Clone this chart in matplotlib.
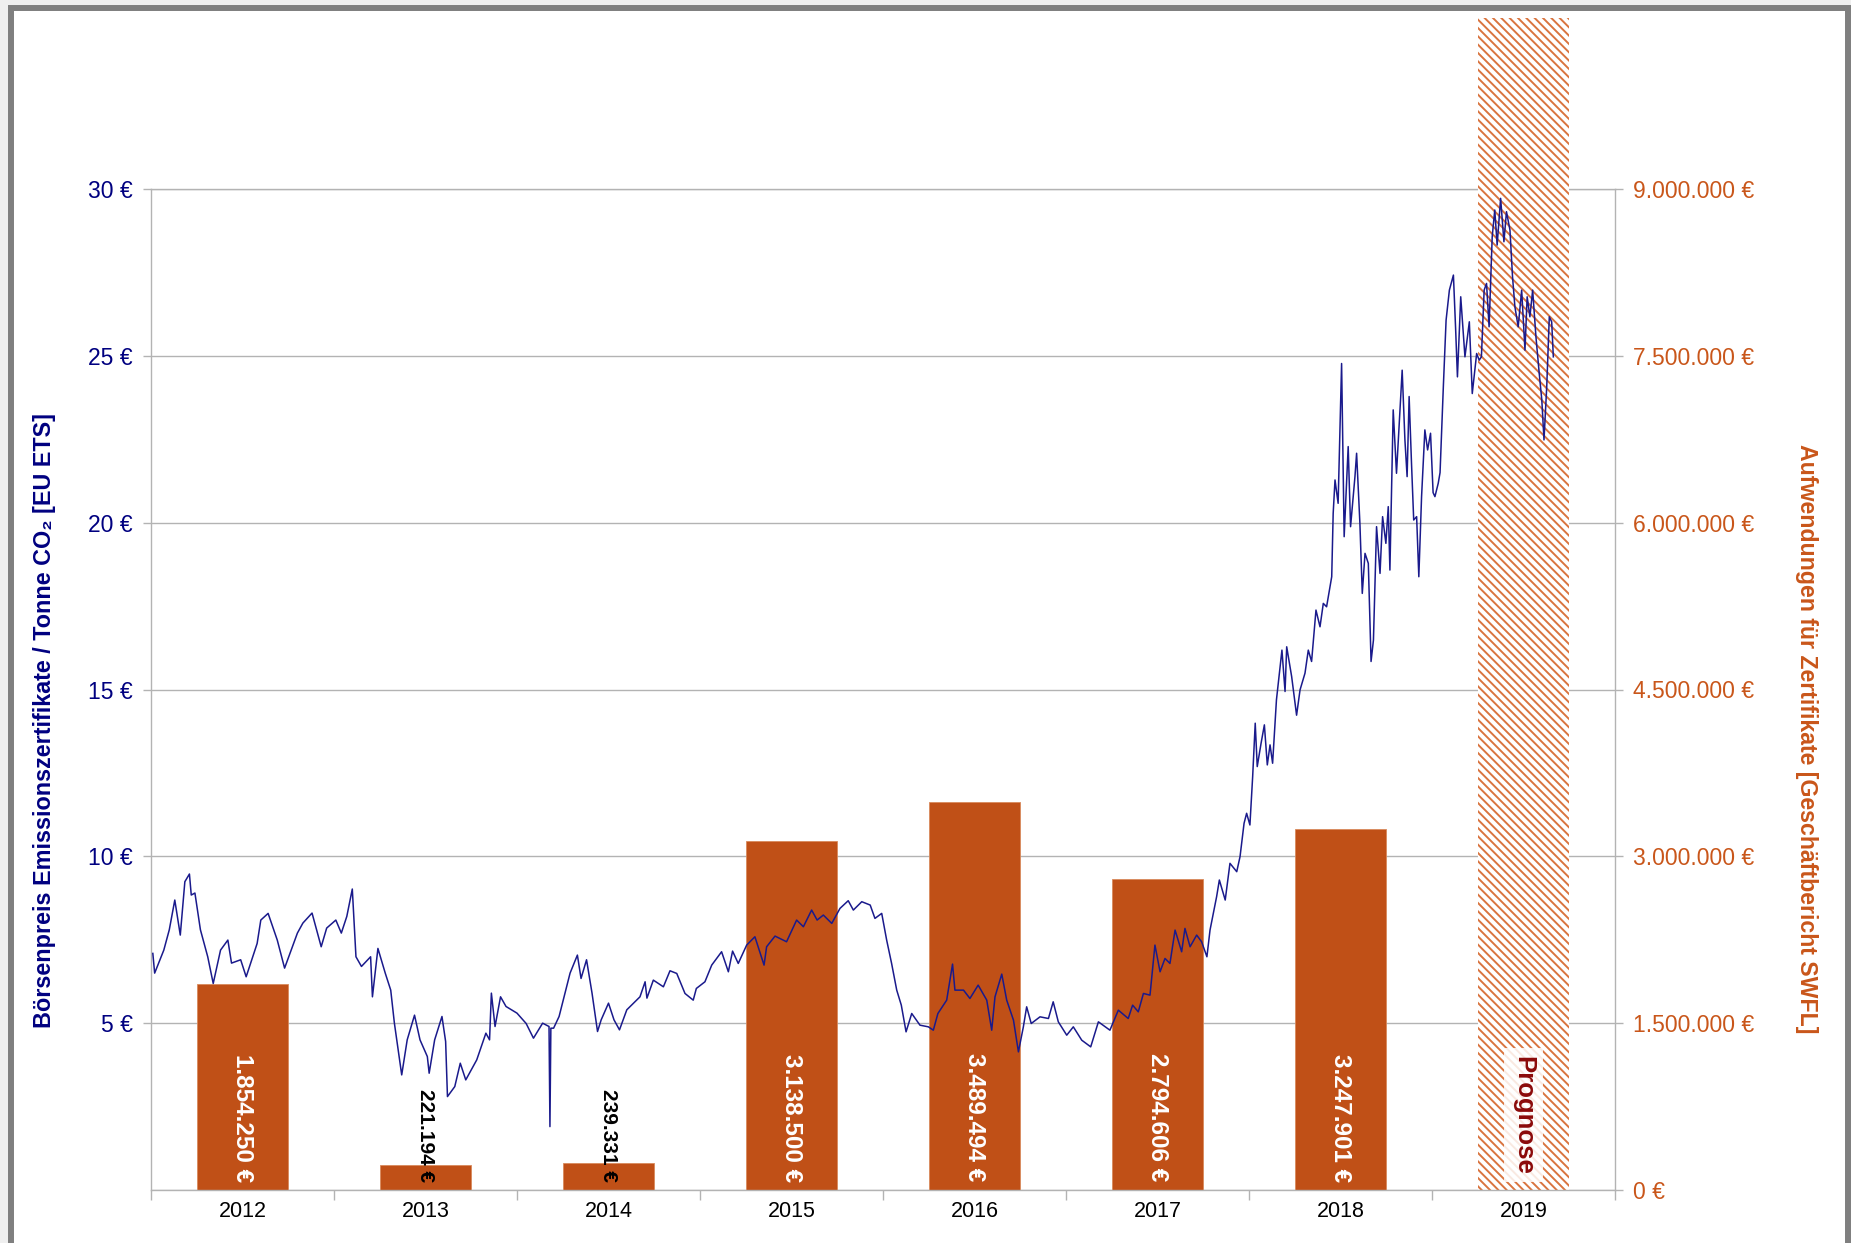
import matplotlib.pyplot as plt
from matplotlib.patches import Rectangle
from matplotlib.ticker import FixedLocator, FuncFormatter

plt.rcParams["font.family"] = ["Liberation Sans", "DejaVu Sans"]
plt.rcParams["hatch.linewidth"] = 1.4

# annual spending on certificates (right axis)
YEARS = ["2012", "2013", "2014", "2015", "2016", "2017", "2018", "2019"]
COSTS = [1854250, 221194, 239331, 3138500, 3489494, 2794606, 3247901]
FORECAST_LABEL = "Prognose"

# EU ETS price (decimal year, EUR per tonne)
PRICE_T = [
    2012.010, 2012.020, 2012.070, 2012.100, 2012.130, 2012.160, 2012.185, 2012.210,
    2012.220, 2012.240, 2012.270, 2012.300, 2012.310, 2012.340, 2012.380, 2012.420,
    2012.440, 2012.490, 2012.520, 2012.580, 2012.600, 2012.640, 2012.690, 2012.730,
    2012.800, 2012.830, 2012.880, 2012.930, 2012.960, 2013.010, 2013.040, 2013.070,
    2013.100, 2013.120, 2013.150, 2013.200, 2013.210, 2013.240, 2013.280, 2013.310,
    2013.330, 2013.370, 2013.400, 2013.440, 2013.470, 2013.510, 2013.520, 2013.550,
    2013.590, 2013.610, 2013.620, 2013.660, 2013.690, 2013.720, 2013.780, 2013.830,
    2013.850, 2013.860, 2013.880, 2013.910, 2013.940, 2014.000, 2014.050, 2014.090,
    2014.140, 2014.175, 2014.180, 2014.185, 2014.200, 2014.230, 2014.290, 2014.330,
    2014.350, 2014.380, 2014.410, 2014.440, 2014.460, 2014.500, 2014.530, 2014.560,
    2014.600, 2014.672, 2014.700, 2014.710, 2014.745, 2014.800, 2014.836, 2014.873,
    2014.918, 2014.963, 2014.980, 2015.027, 2015.064, 2015.118, 2015.155, 2015.178,
    2015.209, 2015.255, 2015.300, 2015.350, 2015.364, 2015.410, 2015.473, 2015.528,
    2015.565, 2015.610, 2015.640, 2015.674, 2015.720, 2015.765, 2015.810, 2015.838,
    2015.884, 2015.930, 2015.956, 2015.993, 2016.020, 2016.047, 2016.075, 2016.100,
    2016.126, 2016.157, 2016.202, 2016.248, 2016.275, 2016.300, 2016.348, 2016.380,
    2016.393, 2016.440, 2016.475, 2016.520, 2016.567, 2016.594, 2016.612, 2016.649,
    2016.676, 2016.713, 2016.740, 2016.767, 2016.785, 2016.810, 2016.858, 2016.904,
    2016.930, 2016.958, 2017.004, 2017.040, 2017.086, 2017.135, 2017.177, 2017.240,
    2017.286, 2017.340, 2017.364, 2017.395, 2017.423, 2017.459, 2017.486, 2017.514,
    2017.541, 2017.568, 2017.596, 2017.632, 2017.650, 2017.678, 2017.714, 2017.741,
    2017.770, 2017.787, 2017.823, 2017.838, 2017.870, 2017.896, 2017.933, 2017.951,
    2017.973, 2017.987, 2018.005, 2018.020, 2018.034, 2018.045, 2018.066, 2018.084,
    2018.100, 2018.115, 2018.129, 2018.150, 2018.180, 2018.197, 2018.206, 2018.233,
    2018.260, 2018.279, 2018.306, 2018.324, 2018.342, 2018.366, 2018.388, 2018.406,
    2018.424, 2018.443, 2018.452, 2018.460, 2018.470, 2018.487, 2018.506, 2018.520,
    2018.542, 2018.555, 2018.579, 2018.588, 2018.606, 2018.619, 2018.634, 2018.652,
    2018.667, 2018.680, 2018.697, 2018.716, 2018.730, 2018.748, 2018.761, 2018.770,
    2018.788, 2018.806, 2018.837, 2018.852, 2018.864, 2018.875, 2018.888, 2018.900,
    2018.916, 2018.928, 2018.943, 2018.961, 2018.976, 2018.992, 2019.006, 2019.016,
    2019.034, 2019.044, 2019.062, 2019.077, 2019.095, 2019.117, 2019.129, 2019.139,
    2019.157, 2019.180, 2019.204, 2019.220, 2019.244, 2019.258, 2019.270, 2019.285,
    2019.298, 2019.312, 2019.329, 2019.343, 2019.356, 2019.375, 2019.393, 2019.407,
    2019.426, 2019.440, 2019.453, 2019.471, 2019.490, 2019.508, 2019.520, 2019.535,
    2019.550, 2019.568, 2019.586, 2019.600, 2019.612, 2019.627, 2019.641, 2019.654,
    2019.663,
]
PRICE_EUR = [
    7.09, 6.50, 7.19, 7.80, 8.69, 7.64, 9.24, 9.47,
    8.84, 8.90, 7.80, 7.19, 6.99, 6.19, 7.19, 7.49,
    6.80, 6.90, 6.39, 7.39, 8.09, 8.29, 7.49, 6.65,
    7.70, 8.00, 8.30, 7.29, 7.85, 8.09, 7.70, 8.20,
    9.02, 6.99, 6.70, 6.99, 5.79, 7.24, 6.50, 5.99,
    5.00, 3.45, 4.50, 5.24, 4.50, 4.00, 3.50, 4.50,
    5.20, 4.45, 2.80, 3.10, 3.80, 3.30, 3.90, 4.70,
    4.50, 5.90, 4.90, 5.79, 5.50, 5.30, 4.99, 4.55,
    5.00, 4.90, 1.90, 4.85, 4.85, 5.20, 6.50, 7.04,
    6.34, 6.90, 5.90, 4.75, 5.10, 5.60, 5.10, 4.80,
    5.40, 5.79, 6.24, 5.75, 6.29, 6.09, 6.57, 6.49,
    5.89, 5.69, 6.04, 6.24, 6.74, 7.14, 6.54, 7.16,
    6.79, 7.34, 7.59, 6.74, 7.29, 7.61, 7.44, 8.09,
    7.89, 8.39, 8.09, 8.24, 7.99, 8.44, 8.67, 8.39,
    8.64, 8.54, 8.14, 8.29, 7.49, 6.79, 5.99, 5.54,
    4.74, 5.29, 4.94, 4.89, 4.79, 5.29, 5.69, 6.77,
    5.99, 5.99, 5.74, 6.14, 5.69, 4.79, 5.79, 6.47,
    5.69, 5.09, 4.14, 4.89, 5.49, 4.99, 5.19, 5.14,
    5.64, 5.04, 4.64, 4.89, 4.49, 4.29, 5.04, 4.79,
    5.39, 5.14, 5.54, 5.34, 5.89, 5.84, 7.34, 6.54,
    6.94, 6.79, 7.79, 7.14, 7.84, 7.29, 7.64, 7.44,
    6.99, 7.79, 8.79, 9.29, 8.69, 9.79, 9.54, 9.99,
    10.99, 11.29, 10.94, 12.39, 13.99, 12.69, 13.39, 13.94,
    12.74, 13.34, 12.79, 14.69, 16.18, 14.94, 16.28, 15.39,
    14.23, 14.99, 15.49, 16.18, 15.84, 17.38, 16.88, 17.58,
    17.48, 18.08, 18.38, 20.28, 21.28, 20.58, 24.77, 19.58,
    22.28, 19.88, 21.38, 22.08, 19.98, 17.88, 19.08, 18.78,
    15.84, 16.48, 19.88, 18.48, 20.18, 19.38, 20.48, 18.58,
    23.38, 21.48, 24.57, 22.48, 21.38, 23.78, 21.78, 20.08,
    20.18, 18.38, 20.78, 22.78, 22.18, 22.68, 20.90, 20.78,
    21.18, 21.50, 24.08, 26.07, 26.97, 27.42, 25.82, 24.37,
    26.77, 24.97, 26.02, 23.87, 25.07, 24.87, 24.97, 26.97,
    27.17, 25.87, 28.57, 29.37, 28.32, 29.72, 28.42, 29.32,
    28.77, 27.37, 26.47, 25.87, 26.97, 25.17, 26.77, 26.17,
    26.97, 25.57, 24.47, 23.68, 22.48, 24.08, 26.17, 26.02,
    24.97,
]

PRICE_TICKS = [5, 10, 15, 20, 25, 30]
COST_TICKS = [0, 1500000, 3000000, 4500000, 6000000, 7500000, 9000000]

W, H = 1851, 1243
NAVY = "#000080"
LINE = "#1a1a8c"
RUST = "#c05017"
HATCH = "#d9743f"
ORANGE = "#c9561a"
DARKRED = "#8b0a0a"
GRID = "#b3b3b3"


def euro_dots(v, _=None):
    return f"{v:,.0f}".replace(",", ".") + " €"


def main():
    fig = plt.figure(figsize=(W / 100, H / 100), dpi=100, facecolor="#efefef")
    fig.add_artist(
        Rectangle(
            (11 / W, -0.05), 1836.5 / W, 1.05 - 8 / H,
            transform=fig.transFigure, facecolor="white",
            edgecolor="#7f7f7f", linewidth=4.3, zorder=-10,
        )
    )

    ax = fig.add_axes([151 / W, 1 - 1190 / H, (1615 - 151) / W, (1190 - 189) / H])
    ax_p = ax.twinx()

    ax.set_xlim(-0.5, len(YEARS) - 0.5)
    ax.set_ylim(0, 9000000)
    ax_p.set_ylim(0, 30)

    # bars: spending per year
    xs = list(range(len(COSTS)))
    ax.bar(xs, COSTS, width=0.5, color=RUST, edgecolor="#d98a5c", linewidth=0.6, zorder=1)

    # forecast band reaching up to the top of the frame
    top = ax.transData.inverted().transform((0, H - 18))[1]
    ax.bar(len(YEARS) - 1, top, width=0.5, facecolor="white", edgecolor=HATCH,
           linewidth=0, hatch="\\\\\\\\", clip_on=False, zorder=1)

    for x, v in zip(xs, COSTS):
        small = v < 1000000
        ax.annotate(
            euro_dots(v), xy=(x, 0), xytext=(0, 6), textcoords="offset points",
            rotation=270, ha="center", va="bottom", fontweight="bold",
            fontsize=15 if small else 17.5, color="black" if small else "white",
            zorder=3,
        )
    ax.annotate(
        FORECAST_LABEL, xy=(len(YEARS) - 1, 0), xytext=(0, 11),
        textcoords="offset points", rotation=270, ha="center", va="bottom",
        fontsize=18.5, fontweight="bold", color=DARKRED, zorder=3,
        bbox=dict(boxstyle="square,pad=0.3", fc="white", ec="none", alpha=0.85),
    )

    # price line on the left axis
    line_x = [t - 2012 - 0.5 for t in PRICE_T]
    ax_p.plot(line_x, PRICE_EUR, color=LINE, linewidth=1.1, zorder=3)

    # grid and spines
    ax.set_axisbelow(True)
    ax.yaxis.grid(True, color=GRID, linewidth=1.0)
    ax.axhline(9000000, color=GRID, linewidth=1.0, zorder=0.5, clip_on=False)
    ax.spines["top"].set_visible(False)
    for side in ("left", "right", "bottom"):
        ax.spines[side].set_color(GRID)
        ax.spines[side].set_linewidth(1.0)
    for spine in ax_p.spines.values():
        spine.set_visible(False)

    # right axis: costs
    ax.yaxis.tick_right()
    ax.yaxis.set_major_locator(FixedLocator(COST_TICKS))
    ax.yaxis.set_major_formatter(FuncFormatter(euro_dots))
    ax.tick_params(axis="y", direction="out", length=6, width=1, color=GRID,
                   labelcolor=ORANGE, labelsize=16.5, pad=7)

    # left axis: price
    ax_p.yaxis.tick_left()
    ax_p.yaxis.set_major_locator(FixedLocator(PRICE_TICKS))
    ax_p.yaxis.set_major_formatter(FuncFormatter(lambda v, _: f"{v:.0f} €"))
    ax_p.tick_params(axis="y", direction="out", length=6, width=1, color=GRID,
                     labelcolor=NAVY, labelsize=16.5, pad=7)

    # x axis: ticks between categories, labels in the middle
    ax.xaxis.set_major_locator(FixedLocator([i - 0.5 for i in range(len(YEARS) + 1)]))
    ax.xaxis.set_minor_locator(FixedLocator(list(range(len(YEARS)))))
    ax.xaxis.set_major_formatter(FuncFormatter(lambda v, _: ""))
    ax.xaxis.set_minor_formatter(FuncFormatter(lambda v, _: YEARS[int(round(v))]))
    ax.tick_params(axis="x", which="major", direction="out", length=7, width=1, color=GRID)
    ax.tick_params(axis="x", which="minor", length=0, labelsize=15.5, pad=8,
                   labelcolor="black")
    ax_p.tick_params(axis="x", which="both", bottom=False, labelbottom=False)

    fig.text(45 / W, 1 - 721 / H,
             "Börsenpreis Emissionszertifikate / Tonne CO₂ [EU ETS]",
             rotation=90, ha="center", va="center", fontsize=16.8,
             fontweight="bold", color=NAVY)
    fig.text(1806 / W, 1 - 739 / H,
             "Aufwendungen für Zertifikate [Geschäftbericht SWFL]",
             rotation=270, ha="center", va="center", fontsize=16.7,
             fontweight="bold", color=ORANGE)

    fig.savefig("out.png", dpi=100, facecolor=fig.get_facecolor())


if __name__ == "__main__":
    main()
